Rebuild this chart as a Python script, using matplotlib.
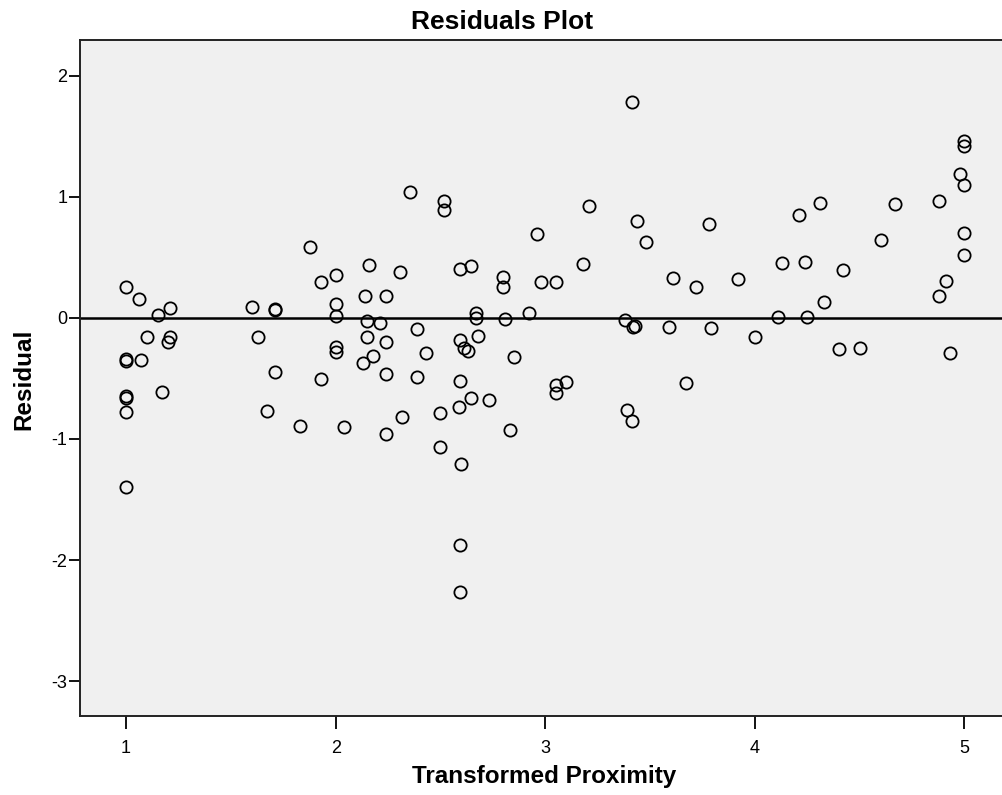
import matplotlib.pyplot as plt

plt.rcParams['font.family'] = ['Liberation Sans', 'DejaVu Sans']
plt.rcParams['axes.unicode_minus'] = False

# residuals
proximity = [
    1.00, 1.06, 1.15, 1.21, 1.10, 1.21, 1.20, 1.00, 1.00, 1.07,
    1.00, 1.00, 1.17, 1.00, 1.00,
    1.60, 1.71, 1.71, 1.63, 1.71, 1.67, 1.83,
    2.355, 2.517, 2.517, 1.879, 2.159, 2.309, 2.00, 1.93, 2.139, 2.239,
    2.00, 2.00, 2.148, 2.21, 2.39, 2.148, 2.239, 2.00, 2.00, 2.43,
    2.18, 2.13, 1.93, 2.239, 2.39, 2.50, 2.318, 2.04, 2.239, 2.50,
    3.209, 2.959, 3.179, 2.595, 2.646, 2.80, 2.80, 2.98, 3.052, 2.67,
    2.67, 2.92, 2.81, 2.595, 2.68, 2.61, 2.63, 2.85, 2.595, 3.05,
    3.10, 3.05, 2.646, 2.73, 2.59, 2.83, 2.60, 2.595, 2.595,
    3.413, 3.44, 3.78, 3.479, 3.61, 3.72, 3.92, 3.38, 3.42, 3.43,
    3.589, 3.79, 4.00, 3.67, 3.39, 3.413,
    5.00, 5.00, 4.98, 5.00, 4.88, 4.67, 4.31, 4.21, 4.60, 5.00,
    5.00, 4.13, 4.24, 4.42, 4.91, 4.88, 4.33, 4.11, 4.25, 4.40,
    4.50, 4.93,
]
residual = [
    0.256, 0.157, 0.025, 0.083, -0.157, -0.157, -0.20, -0.335, -0.355, -0.35,
    -0.645, -0.661, -0.61, -0.78, -1.40,
    0.09, 0.07, 0.075, -0.16, -0.45, -0.77, -0.89,
    1.04, 0.967, 0.895, 0.584, 0.44, 0.378, 0.353, 0.298, 0.184, 0.182,
    0.118, 0.019, -0.022, -0.041, -0.09, -0.154, -0.196, -0.242, -0.281, -0.289,
    -0.317, -0.372, -0.504, -0.463, -0.49, -0.783, -0.816, -0.90, -0.959, -1.066,
    0.923, 0.692, 0.444, 0.405, 0.432, 0.341, 0.259, 0.30, 0.30, 0.039,
    -0.003, 0.044, -0.005, -0.182, -0.151, -0.25, -0.273, -0.325, -0.523, -0.551,
    -0.529, -0.617, -0.661, -0.675, -0.736, -0.928, -1.207, -1.874, -2.264,
    1.788, 0.80, 0.774, 0.626, 0.33, 0.259, 0.32, -0.014, -0.072, -0.066,
    -0.072, -0.083, -0.16, -0.535, -0.758, -0.849,
    1.463, 1.424, 1.19, 1.097, 0.964, 0.942, 0.948, 0.851, 0.647, 0.702,
    0.518, 0.452, 0.463, 0.397, 0.303, 0.179, 0.135, 0.011, 0.008, -0.254,
    -0.248, -0.287,
]
x_ticks = [1, 2, 3, 4, 5]
y_ticks = [-3, -2, -1, 0, 1, 2]

fig = plt.figure(figsize=(10.03, 7.95), dpi=100)
ax = fig.add_axes([80 / 1003, 1 - 716 / 795, 1 - 80 / 1003, (716 - 40) / 795])
ax.set_facecolor('#f0f0f0')

ax.axhline(0, color='black', lw=1.8, zorder=1)
ax.plot(proximity, residual, 'o', ms=8.8, mfc='none', mec='black', mew=1.3, zorder=2)

ax.set_xlim(0.78, 5.184)
ax.set_ylim(-3.289, 2.297)
ax.set_xticks(x_ticks)
ax.set_yticks(y_ticks)
ax.tick_params(axis='x', direction='out', length=9, width=1.3, labelsize=13, pad=8)
ax.tick_params(axis='y', direction='out', length=8, width=1.3, labelsize=13, pad=1)

for side in ['top', 'left', 'bottom']:
    ax.spines[side].set_linewidth(1.4)
    ax.spines[side].set_color('#222222')
ax.spines['right'].set_visible(False)

fig.text(502 / 1003, 1 - 22 / 795, 'Residuals Plot', ha='center', va='center',
         fontsize=19, fontweight='bold')
fig.text(544 / 1003, 1 - 776 / 795, 'Transformed Proximity', ha='center', va='center',
         fontsize=17.5, fontweight='bold')
fig.text(24 / 1003, 1 - 379 / 795, 'Residual', ha='center', va='center',
         rotation=90, fontsize=17.5, fontweight='bold')

fig.savefig('out.png', dpi=100)
